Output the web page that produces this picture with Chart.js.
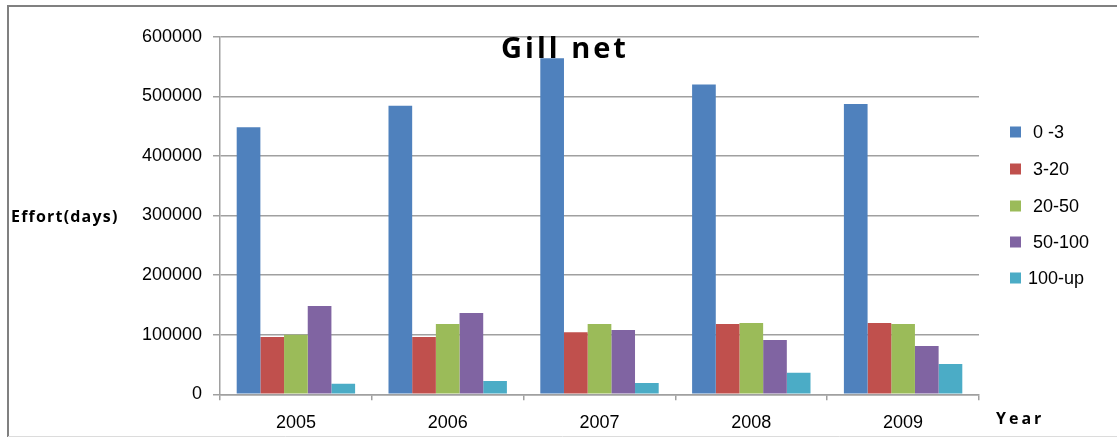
<!DOCTYPE html>
<html>
<head>
<meta charset="utf-8">
<script src="https://cdn.jsdelivr.net/npm/chart.js@4/dist/chart.umd.min.js"></script>
<style>
  html, body { margin: 0; padding: 0; background: #fff; }
  #wrap { position: relative; width: 1117px; height: 437px; }
</style>
</head>
<body>
<div id="wrap"><canvas id="c" width="1117" height="437"></canvas></div>
<script>
const years = ['2005', '2006', '2007', '2008', '2009'];
const seriesNames = ['0 -3', '3-20', '20-50', '50-100', '100-up'];
const s0_3    = [448000, 484000, 564000, 520000, 487000];
const s3_20   = [96000, 96000, 104000, 118000, 119500];
const s20_50  = [100000, 118000, 118000, 119500, 118000];
const s50_100 = [148000, 136500, 108000, 91000, 81000];
const s100_up = [17500, 22500, 19000, 36000, 51000];
const yTicks = [0, 100000, 200000, 300000, 400000, 500000, 600000];
const colors = ['#4F81BD', '#C0504D', '#9BBB59', '#8064A2', '#4BACC6'];

const allSeries = [s0_3, s3_20, s20_50, s50_100, s100_up];
const datasets = allSeries.map((d, i) => ({
  label: seriesNames[i],
  data: d,
  backgroundColor: colors[i],
  borderWidth: 0,
  barPercentage: 1.0,
  categoryPercentage: 0.78
}));

const decor = {
  id: 'decor',
  beforeDraw(chart) {
    const ctx = chart.ctx;
    ctx.save();
    ctx.strokeStyle = '#808080';
    ctx.lineWidth = 2;
    ctx.beginPath();
    ctx.moveTo(8, 437);
    ctx.lineTo(8, 6);
    ctx.lineTo(1117, 6);
    ctx.stroke();
    ctx.strokeStyle = '#dcdcdc';
    ctx.lineWidth = 1;
    ctx.beginPath();
    ctx.moveTo(8, 436.5);
    ctx.lineTo(1117, 436.5);
    ctx.stroke();
    ctx.restore();
  },
  afterDraw(chart) {
    const ctx = chart.ctx;
    ctx.save();
    // title
    ctx.fillStyle = '#000';
    ctx.textBaseline = 'alphabetic';
    ctx.textAlign = 'center';
    ctx.font = 'bold 29px "Open Sans"';
    ctx.letterSpacing = '3px';
    ctx.fillText('Gill net', 565, 58);
    // y title
    ctx.font = 'bold 16px "Open Sans"';
    ctx.letterSpacing = '1.2px';
    ctx.textAlign = 'left';
    ctx.textBaseline = 'middle';
    ctx.fillText('Effort(days)', 11, 217);
    // x title
    ctx.letterSpacing = '3px';
    ctx.fillText('Year', 996, 419);
    // legend
    ctx.letterSpacing = '0px';
    ctx.font = '18px "Liberation Sans"';
    const ys = [132, 169, 206, 242, 278];
    chart.data.datasets.forEach((ds, i) => {
      ctx.fillStyle = ds.backgroundColor;
      ctx.fillRect(1010, ys[i] - 5.5, 11, 11);
      ctx.fillStyle = '#000';
      ctx.fillText(ds.label, i === 4 ? 1028 : 1033, ys[i] + 1);
    });
    ctx.restore();
  }
};

new Chart(document.getElementById('c'), {
  type: 'bar',
  data: { labels: years, datasets },
  options: {
    responsive: false,
    animation: false,
    layout: { padding: { left: 0, right: 138, top: 36.7, bottom: 0 } },
    plugins: {
      legend: { display: false },
      title: { display: false },
      tooltip: { enabled: false }
    },
    scales: {
      x: {
        offset: true,
        grid: {
          offset: true,
          drawOnChartArea: false,
          drawTicks: true,
          tickLength: 6,
          color: '#a0a0a0',
          lineWidth: 1.5
        },
        border: { color: '#a0a0a0', width: 1.5 },
        ticks: {
          color: '#000',
          font: { family: '"Liberation Sans"', size: 18 },
          padding: 12
        },
        afterFit(scale) { scale.height = 42.7; }
      },
      y: {
        min: 0,
        max: 600000,
        afterBuildTicks(scale) { scale.ticks = yTicks.map(v => ({ value: v })); },
        grid: {
          color: '#a0a0a0',
          lineWidth: 1.5,
          tickLength: 7
        },
        border: { color: '#a0a0a0', width: 1.5 },
        ticks: {
          color: '#000',
          font: { family: '"Liberation Sans"', size: 18 },
          padding: 11,
          callback: v => String(v)
        },
        afterFit(scale) { scale.width = 220; }
      }
    }
  },
  plugins: [decor]
});
</script>
</body>
</html>
